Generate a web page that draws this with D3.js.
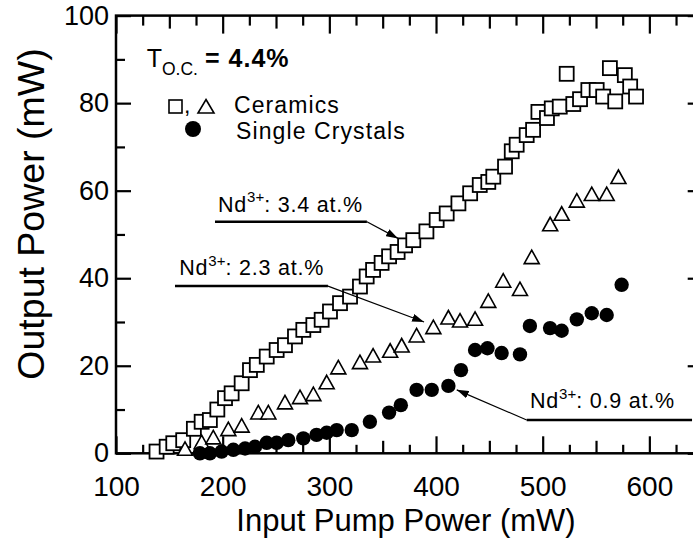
<!DOCTYPE html>
<html><head><meta charset="utf-8">
<script src="https://cdn.jsdelivr.net/npm/d3@7"></script>
<style>body{margin:0;background:#fff}svg{display:block}text{font-family:"Liberation Sans",Arial,Helvetica,sans-serif;fill:#000}</style>
</head><body><svg id="c" width="693" height="543"></svg>
<script>
// ---- data ----
const xLabelTicks = [100, 200, 300, 400, 500, 600];
const yLabelTicks = [0, 20, 40, 60, 80, 100];
const xLabel = "Input Pump Power (mW)";
const yLabel = "Output Power (mW)";
// Ceramics, Nd3+ 3.4 at.% (squares): [pump mW, output mW]
const ceramics34 = [[138,0.4],[147.5,1.5],[153.7,2.3],[163,3.0],[173,5.6],[180.3,7.2],[188,7.6],[195,10],[202.2,12.6],[208.4,13.7],[217.8,16],[225.6,19.0],[232,20.2],[241.3,22.1],[250.6,23.6],[258.4,24.7],[267.8,26.7],[275.6,28.2],[285,29.3],[292.8,30.5],[300.6,32.4],[310,34.3],[319.4,35.8],[328.7,38.1],[335,40.4],[341,41.9],[349,43.5],[356,45],[364,46],[371,47.5],[378.7,48.7],[391,50.7],[400.6,53.3],[410,54.8],[421,57.1],[432,59.4],[441,61.3],[449,62],[453.7,63.2],[464.7,65.5],[471,69],[475.6,70.5],[485,72.7],[491,73.9],[496,78],[504,76.6],[508.5,78.8],[516,79.2],[522.5,86.7],[528.7,79.8],[535,80.9],[542.8,83],[550.6,83],[556.7,81.5],[563,88],[568,80.4],[577,86.4],[582,83.8],[587.5,81.5]];
// Ceramics, Nd3+ 2.3 at.% (triangles)
const ceramics23 = [[164.7,0.8],[180.3,2.3],[191.2,3.4],[205.3,5.3],[217.8,6.1],[233.4,9.1],[242.8,9.1],[258.4,11.4],[272.5,12.6],[285,13.3],[297.5,16],[308.4,19.4],[328.7,20.6],[341,22.1],[357,23.2],[367.8,24.4],[381.8,26.7],[397.5,28.6],[411.6,30.8],[422.5,30.1],[436.6,30.5],[449,34.6],[463,39.2],[478.7,37.3],[489.7,44.6],[507,52.1],[517.8,54.5],[532,57.5],[546,59],[560,59],[571,62.9]];
// Single crystals, Nd3+ 0.9 at.% (filled circles)
const crystals09 = [[178.7,0],[188,0],[199,0.4],[210,0.8],[221,1.1],[230.3,1.5],[241.3,2.4],[250.6,2.4],[261.5,3.0],[275.6,3.4],[288,4.2],[297.5,4.7],[306.9,5.3],[321,5.3],[338,7.2],[356,9.3],[367,11],[381.8,14.5],[396,14.5],[411.6,15.4],[423.4,19.0],[436.6,23.6],[448.2,24],[461.5,22.9],[478.7,22.6],[488,29.1],[506.9,28.6],[517.8,28.0],[532,30.6],[546,32],[560,31.6],[574,38.5]];
// annotations: label, text anchor [x,y], underline [x0,x1,y], arrow from [x,y] to [x,y] (data units)
const annLabels = ["3.4", "2.3", "0.9"];
const annText = [[195.6,55.2],[159.3,40.7],[488.1,10.3]];
const annLine = [[192.8,335.2,52.9],[155.3,298.7,38.2],[485,640,7.6]];
const annArrow = [[[335.2,52.9],[364.4,49.1]],[[298.7,38.2],[388.8,30.0]],[[485,7.6],[419.4,14.5]]];

// ---- scales ----
const x = d3.scaleLinear().domain([100, 650]).range([116, 702.7]);
const y = d3.scaleLinear().domain([0, 100]).range([453.3, 15.6]);
const svg = d3.select('#c');
const FONT = '"Liberation Sans",Arial,Helvetica,sans-serif';

svg.append('defs').append('marker').attr('id','ah').attr('viewBox','0 0 12 8')
  .attr('refX',12).attr('refY',4).attr('markerWidth',12).attr('markerHeight',8)
  .attr('markerUnits','userSpaceOnUse').attr('orient','auto')
  .append('path').attr('d','M0,0 L12,4 L0,8 Z').attr('fill','#000');

// ticks
const xMinor = d3.range(100, 651, 25).filter(v => v % 50 !== 0);
const xMid = d3.range(100, 651, 50).filter(v => v % 100 !== 0);
const yMinor = d3.range(0, 101, 10).filter(v => v % 20 !== 0);
function tickGroup(axis, tr, vals, size) {
  const g = svg.append('g').attr('transform', tr)
    .call(axis.tickValues(vals).tickSize(-size).tickFormat(''));
  g.select('.domain').remove();
  g.selectAll('line').attr('stroke','#000').attr('stroke-width',2.2);
}
tickGroup(d3.axisBottom(x), `translate(0,${y(0)})`, xLabelTicks, 17);
tickGroup(d3.axisBottom(x), `translate(0,${y(0)})`, xMid, 12.5);
tickGroup(d3.axisBottom(x), `translate(0,${y(0)})`, xMinor, 8.5);
tickGroup(d3.axisTop(x), `translate(0,${y(100)})`, xLabelTicks, 18);
tickGroup(d3.axisTop(x), `translate(0,${y(100)})`, xMid, 13);
tickGroup(d3.axisTop(x), `translate(0,${y(100)})`, xMinor, 10);
tickGroup(d3.axisLeft(y), `translate(${x(100)},0)`, yLabelTicks, 15);
tickGroup(d3.axisLeft(y), `translate(${x(100)},0)`, yMinor, 9);
tickGroup(d3.axisRight(y), `translate(${x(650)},0)`, yLabelTicks, 15);
tickGroup(d3.axisRight(y), `translate(${x(650)},0)`, yMinor, 9);

// frame
svg.append('rect').attr('x', x(100)).attr('y', y(100))
  .attr('width', x(650) - x(100)).attr('height', y(0) - y(100))
  .attr('fill','none').attr('stroke','#000').attr('stroke-width',2.5);

// tick labels
const gx = svg.append('g').attr('transform', `translate(0,${y(0)})`)
  .call(d3.axisBottom(x).tickValues(xLabelTicks).tickSize(0).tickPadding(23).tickFormat(d3.format('d')));
gx.select('.domain').remove();
gx.attr('font-family', FONT).attr('font-size', 28);
gx.selectAll('text').attr('fill','#000');
const gy = svg.append('g').attr('transform', `translate(${x(100)},0)`)
  .call(d3.axisLeft(y).tickValues(yLabelTicks).tickSize(0).tickPadding(7).tickFormat(d3.format('d')));
gy.select('.domain').remove();
gy.attr('font-family', FONT).attr('font-size', 27);
gy.selectAll('text').attr('fill','#000');

// axis titles
svg.append('text').attr('x', 406).attr('y', 531).attr('text-anchor','middle')
  .attr('font-size', 31).text(xLabel);
svg.append('text').attr('transform','translate(44,214) rotate(-90)').attr('text-anchor','middle')
  .attr('font-size', 37.5).text(yLabel);

// data marks
const S = 14;
svg.append('g').selectAll('rect').data(ceramics34).join('rect')
  .attr('x', d => x(d[0]) - S/2).attr('y', d => y(d[1]) - S/2)
  .attr('width', S).attr('height', S)
  .attr('fill','#fff').attr('stroke','#000').attr('stroke-width',1.8);
const tri = 'M0,-8 L7.5,5.5 L-7.5,5.5 Z';
svg.append('g').selectAll('path').data(ceramics23).join('path')
  .attr('d', tri).attr('transform', d => `translate(${x(d[0])},${y(d[1])})`)
  .attr('fill','#fff').attr('stroke','#000').attr('stroke-width',1.6);
svg.append('g').selectAll('circle').data(crystals09).join('circle')
  .attr('cx', d => x(d[0])).attr('cy', d => y(d[1])).attr('r', 7.2)
  .attr('fill','#000');

// annotations
annLabels.forEach((lab, i) => {
  const t = svg.append('text').attr('x', x(annText[i][0])).attr('y', y(annText[i][1]))
    .attr('font-size', 21.5).attr('letter-spacing', 0.8);
  t.append('tspan').text('Nd');
  t.append('tspan').attr('font-size', 15).attr('dy', -9.5).attr('letter-spacing', 0).text('3+');
  t.append('tspan').attr('dy', 9.5).text(': ' + lab + ' at.%');
  const l = annLine[i];
  svg.append('line').attr('x1', x(l[0])).attr('x2', x(l[1])).attr('y1', y(l[2])).attr('y2', y(l[2]))
    .attr('stroke','#000').attr('stroke-width',2.5);
  const a = annArrow[i];
  svg.append('line').attr('x1', x(a[0][0])).attr('y1', y(a[0][1])).attr('x2', x(a[1][0])).attr('y2', y(a[1][1]))
    .attr('stroke','#000').attr('stroke-width',1.2).attr('marker-end','url(#ah)');
});

// T_O.C. label
const tt = svg.append('text').attr('x', 146.7).attr('y', 66.7).attr('font-size', 25);
tt.append('tspan').text('T');
tt.append('tspan').attr('font-size', 17.5).attr('dy', 8.5).text('O.C.');
tt.append('tspan').attr('x', 205).attr('dy', -8.5).attr('font-weight','bold').attr('letter-spacing', 1).text('= 4.4%');

// legend
svg.append('rect').attr('x', 169).attr('y', 100).attr('width', 13).attr('height', 13)
  .attr('fill','#fff').attr('stroke','#000').attr('stroke-width',1.6);
svg.append('text').attr('x', 184).attr('y', 113).attr('font-size', 23).text(',');
svg.append('path').attr('d','M0,-7.5 L8,6 L-8,6 Z').attr('transform','translate(206,107)')
  .attr('fill','#fff').attr('stroke','#000').attr('stroke-width',1.6);
svg.append('text').attr('x', 234).attr('y', 113).attr('font-size', 23).attr('letter-spacing', 1.1).text('Ceramics');
svg.append('circle').attr('cx', 193).attr('cy', 129).attr('r', 8).attr('fill','#000');
svg.append('text').attr('x', 236).attr('y', 139).attr('font-size', 23).attr('letter-spacing', 1.1).text('Single Crystals');
</script></body></html>
